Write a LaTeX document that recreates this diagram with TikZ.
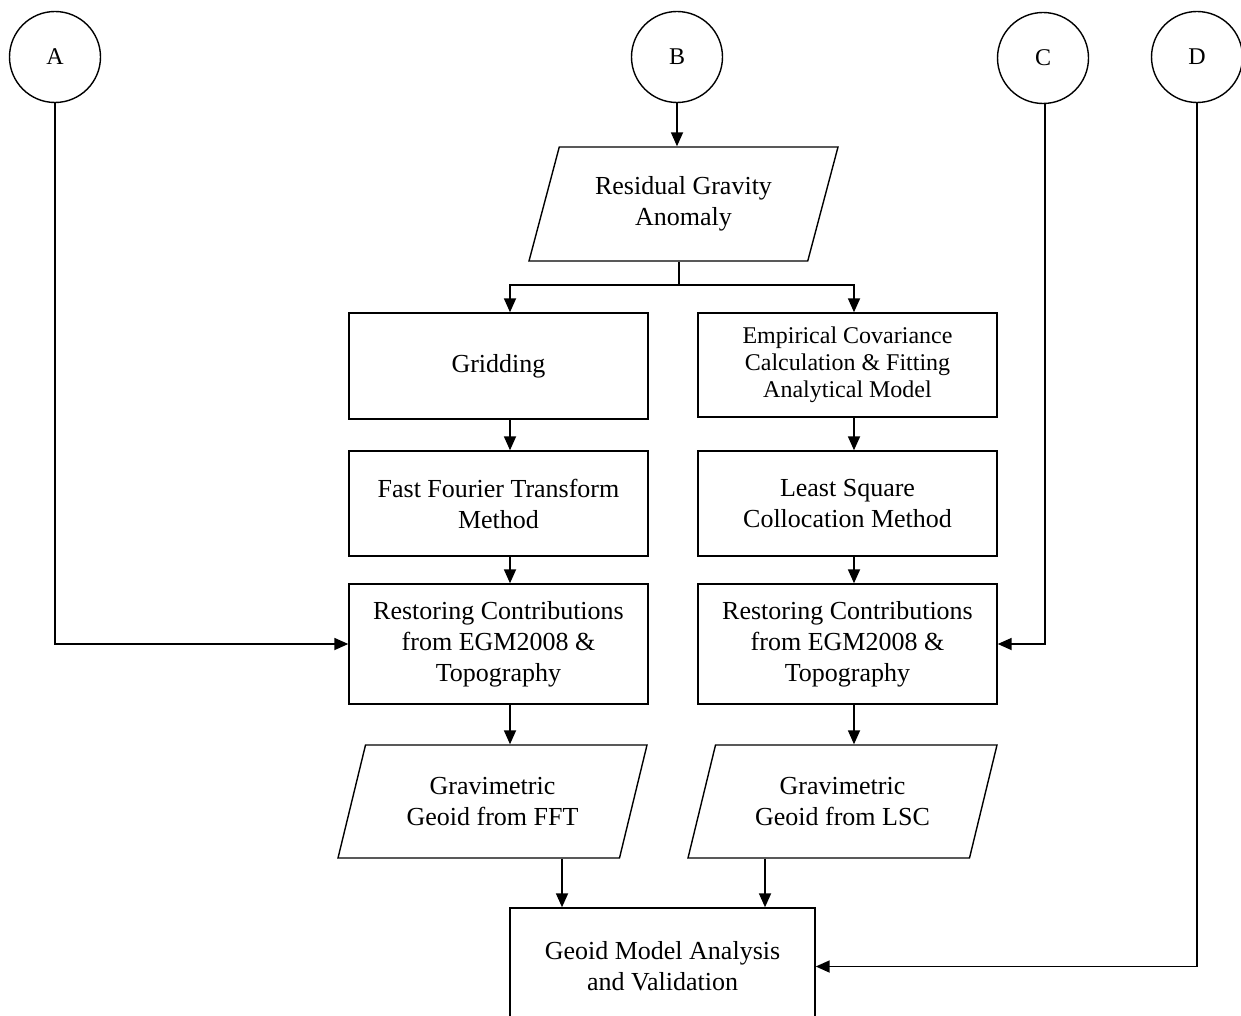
\documentclass[tikz,border=0pt]{standalone}
\usepackage{fontspec}
\setmainfont{Liberation Serif}
\usetikzlibrary{arrows.meta, positioning, shapes.geometric, calc}

\begin{document}
\begin{tikzpicture}[x=0.5pt, y=-0.5pt, font=\fontsize{13}{15.5}\selectfont,
    ARR/.style={-{Triangle[length=7pt,width=6pt]}, line width=0.9pt},
    BOX/.style={draw, line width=0.7pt, minimum width=149.5pt, align=center},
    DATA/.style={draw, line width=0.7pt, trapezium, trapezium left angle=66, trapezium right angle=114, trapezium stretches body, minimum width=154.5pt, align=center},
    CON/.style={draw, circle, line width=0.7pt, minimum size=45.5pt, inner sep=0pt, font=\fontsize{12}{14}\selectfont}]
    \useasboundingbox (0,0) rectangle (1241,1016);
    % connectors on top
    \node[CON] (A) at (55,57) {A};
    \node[CON] (B) at (677,57) {B};
    \node[CON] (C) at (1043,58) {C};
    \node[CON] (D) at (1197,57) {D};
    % input data
    \node[DATA, minimum height=57pt] (res) at (683.5,204) {Residual Gravity\\Anomaly};
    % FFT branch
    \node[BOX, minimum height=53pt] (grid) at (498.5,366) {Gridding};
    \node[BOX, minimum height=52.5pt] (fft) at (498.5,503.5) {Fast Fourier Transform\\Method};
    \node[BOX, minimum height=60pt] (restL) at (498.5,644) {Restoring Contributions\\from EGM2008 \&\\Topography};
    \node[DATA, minimum height=56.5pt] (gravL) at (492.5,801.5) {Gravimetric\\Geoid from FFT};
    % LSC branch
    \node[BOX, minimum height=52pt, font=\fontsize{12}{13.5}\selectfont] (emp) at (847.5,365) {Empirical Covariance\\Calculation \& Fitting\\Analytical Model};
    \node[BOX, minimum height=52.5pt] (lsc) at (847.5,503.5) {Least Square\\Collocation Method};
    \node[BOX, minimum height=60pt] (restR) at (847.5,644) {Restoring Contributions\\from EGM2008 \&\\Topography};
    \node[DATA, minimum height=56.5pt] (gravR) at (842.5,801.5) {Gravimetric\\Geoid from LSC};
    % final
    \node[BOX, minimum width=152.5pt, minimum height=58.5pt] (geoid) at (662.5,966.5) {Geoid Model Analysis\\and Validation};
    \coordinate (colL) at (510,0); \coordinate (colR) at (854,0); \coordinate (split) at (679,285);
    \draw[ARR] (B.south) -- (B.south |- res.north);
    \draw[line width=0.9pt] (split |- res.south) -- (split);
    \draw[ARR] (split) -| (grid.north -| colL); \draw[ARR] (split) -| (emp.north -| colR);
    \draw[ARR] (grid.south -| colL) -- (fft.north -| colL); \draw[ARR] (fft.south -| colL) -- (restL.north -| colL); \draw[ARR] (restL.south -| colL) -- (gravL.north -| colL);
    \draw[ARR] (emp.south -| colR) -- (lsc.north -| colR); \draw[ARR] (lsc.south -| colR) -- (restR.north -| colR); \draw[ARR] (restR.south -| colR) -- (gravR.north -| colR);
    \draw[ARR] ([xshift=34.75pt]gravL.south) -- ([xshift=34.75pt]gravL.south |- geoid.north); \draw[ARR] ([xshift=-38.75pt]gravR.south) -- ([xshift=-38.75pt]gravR.south |- geoid.north);
    \draw[ARR] (A.south) |- (restL.west); \draw[ARR] ([xshift=1pt]C.south) |- (restR.east); \draw[ARR] (D.south) |- (geoid.east);
\end{tikzpicture}
\end{document}
